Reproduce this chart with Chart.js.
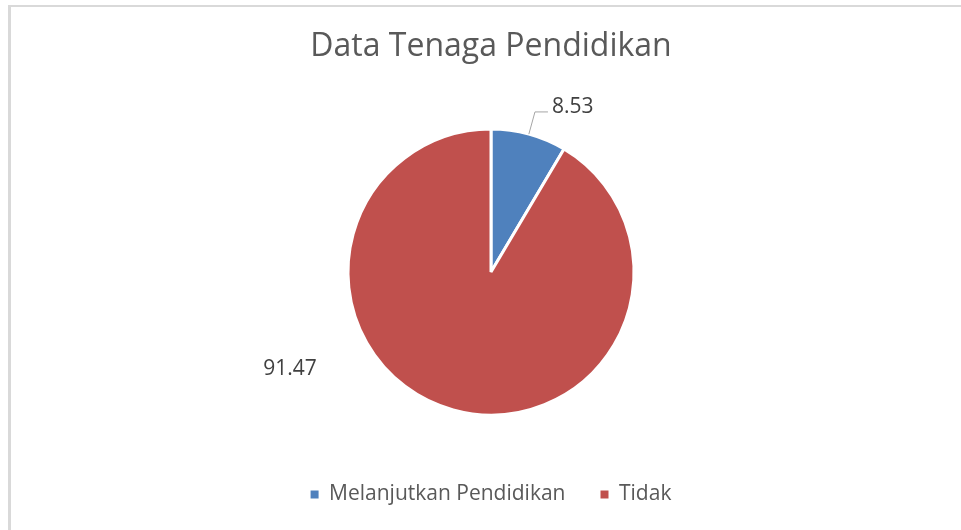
<!DOCTYPE html>
<html>
<head>
<meta charset="utf-8">
<script src="https://cdn.jsdelivr.net/npm/chart.js@4"></script>
<style>
  html, body { margin: 0; padding: 0; background: #fff; }
  #wrap { position: relative; width: 961px; height: 530px; overflow: hidden; }
  #frame { position: absolute; left: 8px; top: 5px; width: 1000px; height: 600px;
           border-left: 3px solid #d9d9d9; border-top: 2px solid #d9d9d9; }
  canvas { position: absolute; left: 0; top: 0; }
</style>
</head>
<body>
<div id="wrap">
  <div id="frame"></div>
  <canvas id="chart" width="961" height="530"></canvas>
</div>
<script>
const categories = ['Melanjutkan Pendidikan', 'Tidak'];
const values = [8.53, 91.47];
const sliceColors = ['#4F81BD', '#C0504D'];

// draws the value labels next to each slice, like Excel's "best fit"
const valueLabels = {
    id: 'valueLabels',
    afterDatasetsDraw(chart, args, opts) {
        const ctx = chart.ctx;
        const meta = chart.getDatasetMeta(0);
        ctx.save();
        ctx.font = opts.font;
        ctx.fillStyle = opts.color;
        meta.data.forEach((arc, i) => {
            const p = arc.getProps(['x', 'y', 'startAngle', 'endAngle', 'outerRadius'], true);
            const mid = (p.startAngle + p.endAngle) / 2;
            const place = opts.placement[i];
            const text = chart.data.datasets[0].data[i].toFixed(2);
            if (place.leader) {
                // radial leader line then short horizontal tail
                const x1 = p.x + Math.cos(mid) * p.outerRadius;
                const y1 = p.y + Math.sin(mid) * p.outerRadius;
                const x2 = p.x + Math.cos(mid) * (p.outerRadius + place.leader);
                const y2 = p.y + Math.sin(mid) * (p.outerRadius + place.leader);
                ctx.strokeStyle = opts.lineColor;
                ctx.lineWidth = 1;
                ctx.beginPath();
                ctx.moveTo(x1, y1);
                ctx.lineTo(x2, y2);
                ctx.lineTo(x2 + place.tail, y2);
                ctx.stroke();
                ctx.textAlign = 'left';
                ctx.textBaseline = 'alphabetic';
                ctx.fillText(text, x2 + place.tail + 4, y2 + 1);
            } else {
                const a = mid + place.shift * Math.PI / 180;
                const d = p.outerRadius * place.dist;
                ctx.textAlign = 'center';
                ctx.textBaseline = 'middle';
                ctx.fillText(text, p.x + Math.cos(a) * d, p.y + Math.sin(a) * d);
            }
        });
        ctx.restore();
    }
};

new Chart(document.getElementById('chart'), {
    type: 'pie',
    data: {
        labels: categories,
        datasets: [{
            data: values,
            backgroundColor: sliceColors,
            borderColor: '#ffffff',
            borderWidth: 3
        }]
    },
    options: {
        responsive: false,
        animation: false,
        radius: 143,
        layout: { padding: { left: 21, right: 0, top: 0, bottom: 15 } },
        plugins: {
            title: {
                display: true,
                text: 'Data Tenaga Pendidikan',
                color: '#595959',
                font: { family: 'Open Sans', size: 32, weight: 'normal', lineHeight: 1.2 },
                padding: { top: 27.8, bottom: 28.8 }
            },
            legend: {
                position: 'bottom',
                labels: {
                    color: '#595959',
                    font: { family: 'Open Sans', size: 21 },
                    boxWidth: 8,
                    boxHeight: 8,
                    padding: 35,
                    generateLabels(chart) {
                        const items = Chart.controllers.pie.overrides.plugins.legend.labels.generateLabels(chart);
                        items.forEach(it => { it.lineWidth = 0; });
                        return items;
                    }
                }
            },
            tooltip: { enabled: false },
            valueLabels: {
                font: '21px "Open Sans"',
                color: '#404040',
                lineColor: '#a6a6a6',
                placement: [
                    { leader: 23, tail: 13 },
                    { shift: 48.85, dist: 1.561 }
                ]
            }
        }
    },
    plugins: [valueLabels]
});
</script>
</body>
</html>
